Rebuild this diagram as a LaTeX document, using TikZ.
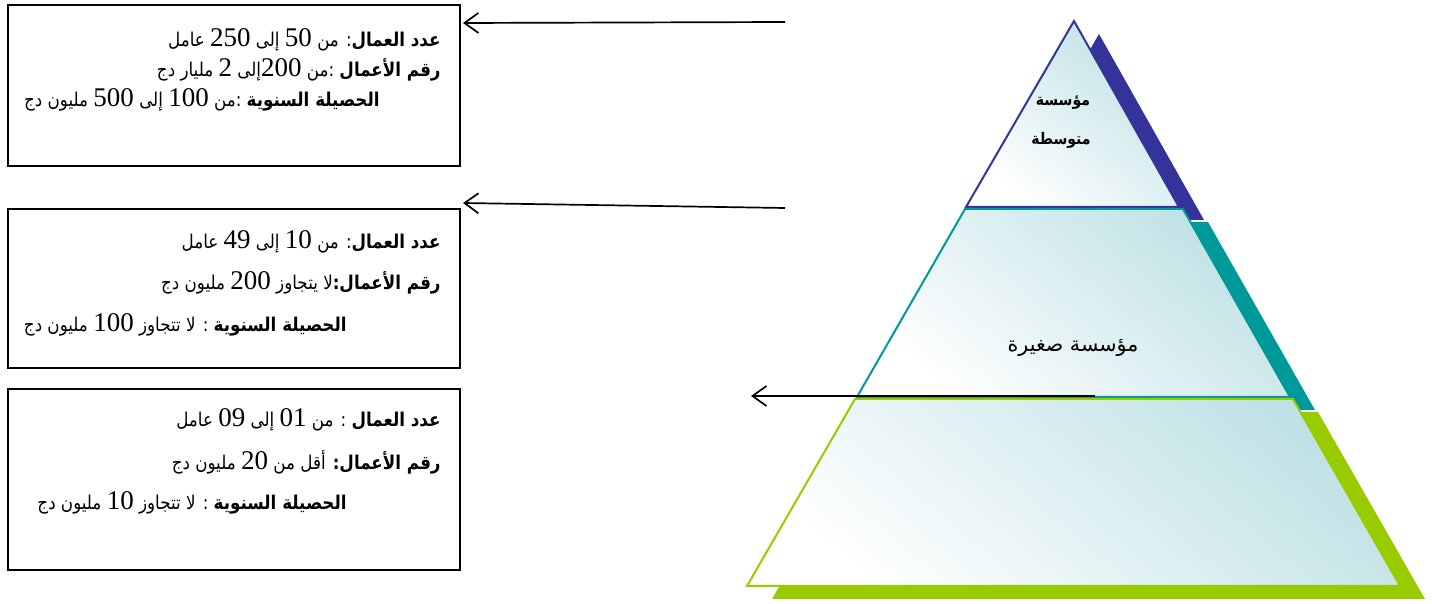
\documentclass[tikz,border=0pt]{standalone}
\usepackage{fontspec}
\usetikzlibrary{arrows.meta}
\TeXXeTstate=1
\newfontfamily\arfont[Script=Arabic]{DejaVu Sans}
\newfontfamily\arnfont[Script=Arabic,FakeStretch=0.88]{DejaVu Sans}
\newfontfamily\digfont{Liberation Serif}
\newcommand\nm[1]{\beginL{\digfont\fontsize{13.5}{16}\selectfont #1}\endL}
\definecolor{pblue}{RGB}{51,51,153}
\definecolor{pteal}{RGB}{0,153,153}
\definecolor{pgreen}{RGB}{153,204,0}
\definecolor{pfill}{RGB}{190,225,229}
\begin{document}
\begin{tikzpicture}[x=0.5pt,y=-0.5pt,
  infobox/.style={draw=black,line width=0.7pt,inner sep=0pt,outer sep=0pt,anchor=north west,minimum width=226pt},
  infoline/.style={anchor=east,inner sep=0pt,font=\arnfont\fontsize{9.5}{12}\selectfont},
  conn/.style={line width=0.85pt,-{Straight Barb[length=7pt,width=10pt,line width=0.85pt]}},
  tiershade/.style={top color=pfill,bottom color=white,shading angle=-40},
  tiertext/.style={inner sep=0pt,font=\arnfont\fontsize{9}{11}\selectfont}]
\useasboundingbox (0,0) rectangle (1432,604);
% shadows
\fill[pblue] (1099,34) -- (1204,220) -- (992,220) -- cycle;
\fill[pteal] (990,222) -- (1208,222) -- (1315,410) -- (882,410) -- cycle;
\fill[pgreen] (880,412) -- (1318,412) -- (1425,599) -- (772,599) -- cycle;
% tiers
\draw[pblue,line width=1pt,tiershade] (1074,21) -- (1179,207) -- (966,207) -- cycle;
\draw[pteal,line width=1pt,tiershade] (965,209) -- (1183,209) -- (1290,397) -- (857,397) -- cycle;
\draw[pgreen,line width=1pt,tiershade] (855,399) -- (1293,399) -- (1400,586) -- (747,586) -- cycle;
% tier labels
\node[tiertext,font=\arnfont\bfseries\fontsize{8}{10}\selectfont] (t1a) at (1063,103) {\beginR مؤسسة\endR};
\node[tiertext,font=\arnfont\bfseries\fontsize{8}{10}\selectfont] (t1b) at (1061,140) {\beginR متوسطة\endR};
\node[tiertext,font=\arfont\fontsize{10.3}{12}\selectfont] (t2) at (1073,348) {\beginR مؤسسة صغيرة\endR};
% boxes
\node[infobox,minimum height=80.5pt] (box1) at (8,5) {};
\node[infobox,minimum height=79.5pt] (box2) at (8,209) {};
\node[infobox,minimum height=90.5pt] (box3) at (8,389) {};
% box 1 lines
\node[infoline] (b1a) at (441,40) {\beginR{\bfseries عدد العمال}: من \nm{50} إلى \nm{250} عامل\endR};
\node[infoline] (b1b) at (441,70) {\beginR{\bfseries رقم الأعمال} :من \nm{200}إلى \nm{2} مليار دج\endR};
\node[infoline] (b1c) at (380,100) {\beginR{\bfseries الحصيلة السنوية} :من \nm{100} إلى \nm{500} مليون دج\endR};
% box 2 lines
\node[infoline] (b2a) at (441,242) {\beginR{\bfseries عدد العمال}: من \nm{10} إلى \nm{49} عامل\endR};
\node[infoline] (b2b) at (441,283) {\beginR{\bfseries رقم الأعمال:}لا يتجاوز \nm{200} مليون دج\endR};
\node[infoline] (b2c) at (347,325) {\beginR{\bfseries الحصيلة السنوية} : لا تتجاوز \nm{100} مليون دج\endR};
% box 3 lines
\node[infoline] (b3a) at (441,420) {\beginR{\bfseries عدد العمال} : من \nm{01} إلى \nm{09} عامل\endR};
\node[infoline] (b3b) at (441,462) {\beginR{\bfseries رقم الأعمال:} أقل من \nm{20} مليون دج\endR};
\node[infoline] (b3c) at (347,503) {\beginR{\bfseries الحصيلة السنوية} : لا تتجاوز \nm{10} مليون دج\endR};
% arrows
\coordinate (s1) at (785,22);
\coordinate (e1) at (463,23);
\coordinate (s2) at (785,208);
\coordinate (e2) at (463,203);
\coordinate (s3) at (1095,396);
\coordinate (e3) at (751,396);
\draw[conn] (s1) -- (e1);
\draw[conn] (s2) -- (e2);
\draw[conn] (s3) -- (e3);
\end{tikzpicture}
\end{document}
